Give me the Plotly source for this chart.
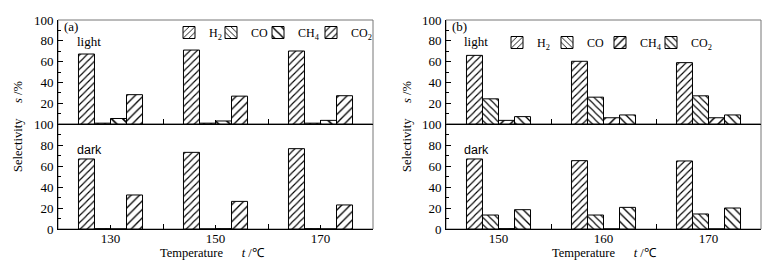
import plotly.graph_objects as go

# ---------------- data ----------------
species = ["H<sub>2</sub>", "CO", "CH<sub>4</sub>", "CO<sub>2</sub>"]
temps_a = ["130", "150", "170"]
temps_b = ["150", "160", "170"]

a_light_H2 = [67.3, 71.1, 70.2]
a_light_CO = [0.8, 0.8, 0.8]
a_light_CH4 = [5.3, 2.9, 3.5]
a_light_CO2 = [28.2, 26.8, 27.2]

a_dark_H2 = [66.7, 73.0, 76.5]
a_dark_CO = [0.3, 0.0, 0.3]
a_dark_CH4 = [0.0, 0.3, 0.0]
a_dark_CO2 = [32.4, 26.3, 22.9]

b_light_H2 = [66.0, 60.3, 59.0]
b_light_CO = [24.2, 25.8, 27.1]
b_light_CH4 = [3.5, 6.0, 6.0]
b_light_CO2 = [7.1, 8.7, 8.7]

b_dark_H2 = [66.7, 65.1, 64.8]
b_dark_CO = [13.3, 13.3, 14.3]
b_dark_CH4 = [0.3, 0.0, 0.0]
b_dark_CO2 = [18.4, 20.6, 20.0]

y_ticks_top = [20, 40, 60, 80, 100]
y_ticks_bottom = [0, 20, 40, 60, 80, 100]

# ---------------- styling ----------------
SERIF = "Liberation Serif, Times New Roman, serif"
SANS = "Liberation Sans, Arial, sans-serif"
patterns_a = [("/", 5), ("\\", 5), ("\\", 8), ("/", 6)]
patterns_b = [("/", 5), ("\\", 5), ("/", 7), ("\\", 6)]

# the page body has an 8px margin, so the figure is drawn 8px smaller
OFF = 8
W, H = 775 - OFF, 262 - OFF

def fx(X):
    return (X - OFF) / W

def fy(Y):
    return 1 - (Y - OFF) / H

# legend item placement (symbol centre x, row centre y) in page pixels
legend_pos_a = [(188, 32), (230, 32), (277, 32), (330, 32)]
legend_pos_b = [(516, 42), (566, 42), (619, 42), (670, 42)]

fig = go.Figure()
xpos = [0, 1, 2]

legend_layouts = {}
legend_counter = [0]

def new_legend(cx, cy):
    legend_counter[0] += 1
    n = legend_counter[0]
    key = "legend" if n == 1 else f"legend{n}"
    legend_layouts[key] = dict(
        orientation="h", x=fx(cx - 19), y=fy(cy - 14),
        xanchor="left", yanchor="top",
        font=dict(family=SERIF, size=12, color="black"),
        bgcolor="rgba(0,0,0,0)", itemwidth=30, borderwidth=0)
    return key

def add_panel(series_top, series_bot, pats, xa_top, ya_top, xa_bot, ya_bot, lpos):
    for i, (name, vt, vb) in enumerate(zip(species, series_top, series_bot)):
        shape, size = pats[i]
        marker = dict(color="white",
                      line=dict(color="black", width=1),
                      pattern=dict(shape=shape, size=size, solidity=0.22,
                                   fgcolor="black", bgcolor="white"))
        lg = new_legend(*lpos[i])
        fig.add_trace(go.Bar(x=xpos, y=vt, name=name, xaxis=xa_top, yaxis=ya_top,
                             marker=marker, legend=lg, showlegend=True,
                             offsetgroup=str(i)))
        fig.add_trace(go.Bar(x=xpos, y=vb, name=name, xaxis=xa_bot, yaxis=ya_bot,
                             marker=marker, showlegend=False,
                             offsetgroup=str(i)))

add_panel([a_light_H2, a_light_CO, a_light_CH4, a_light_CO2],
          [a_dark_H2, a_dark_CO, a_dark_CH4, a_dark_CO2],
          patterns_a, "x", "y", "x2", "y2", legend_pos_a)
add_panel([b_light_H2, b_light_CO, b_light_CH4, b_light_CO2],
          [b_dark_H2, b_dark_CO, b_dark_CH4, b_dark_CO2],
          patterns_b, "x3", "y3", "x4", "y4", legend_pos_b)

dom_a = [fx(58), fx(373)]
dom_b = [fx(446), fx(761)]
dom_top = [fy(124), fy(20)]
dom_bot = [fy(229), fy(124)]

tickfont = dict(family=SERIF, size=13, color="black")

def xaxis(domain, anchor, labels):
    d = dict(domain=domain, anchor=anchor, range=[-0.5, 2.5], automargin=False,
             tickvals=xpos, ticks="inside", ticklen=4, tickcolor="black",
             fixedrange=True,
             showline=True, linecolor="black", linewidth=1,
             tickfont=tickfont, showgrid=False, zeroline=False,
             minor=dict(tickvals=[0.5, 1.5], ticks="inside", ticklen=5,
                        tickcolor="black", showgrid=False))
    if labels is None:
        d["showticklabels"] = False
    else:
        d["ticktext"] = labels
        d["showticklabels"] = True
        d["ticklabelstandoff"] = -3
    return d

def yaxis(domain, anchor, tv):
    return dict(domain=domain, anchor=anchor, range=[0, 100], automargin=False,
                tickvals=tv, ticks="inside", ticklen=5, tickcolor="black",
                showline=True, linecolor="black", linewidth=1,
                tickfont=tickfont, showgrid=False, zeroline=False, ticklabelstandoff=1,
                minor=dict(tickvals=[10, 30, 50, 70, 90], ticks="inside", ticklen=3,
                           tickcolor="black", showgrid=False))

annotations = []
def ann(text, X, Y, font, **kw):
    annotations.append(dict(text=text, x=fx(X), y=fy(Y), xref="paper", yref="paper",
                            showarrow=False, font=font, **kw))

f12 = dict(family=SERIF, size=12.5, color="black")
for cx, cy in [(18, 127), (407, 127)]:
    ann("Selectivity" + "\u00a0" * 5 + "<i>s</i> /%", cx, cy, f12, textangle=-90,
        xanchor="center", yanchor="middle")
for cx in [212, 604]:
    ann("Temperature" + "\u00a0" * 6 + "<i>t</i> /\u2103", cx, 253, f12,
        xanchor="center", yanchor="middle")
f13 = dict(family=SERIF, size=13, color="black")
fsans = dict(family=SANS, size=12.5, color="black")
ann("(a)", 62, 27, f13, xanchor="left", yanchor="middle")
ann("light", 75, 41, f13, xanchor="left", yanchor="middle")
ann("dark", 75, 150, fsans, xanchor="left", yanchor="middle")
ann("(b)", 450, 27, f13, xanchor="left", yanchor="middle")
ann("light", 462, 41, f13, xanchor="left", yanchor="middle")
ann("dark", 462, 150, fsans, xanchor="left", yanchor="middle")

shapes = []
for xa, ya in [("x", "y"), ("x2", "y2"), ("x3", "y3"), ("x4", "y4")]:
    shapes.append(dict(type="rect", xref=xa + " domain", yref=ya + " domain",
                       x0=0, x1=1, y0=0, y1=1, line=dict(color="#777777", width=1),
                       layer="below"))

fig.update_layout(
    template="none",
    width=W, height=H, margin=dict(l=0, r=0, t=0, b=0, pad=0, autoexpand=False),
    paper_bgcolor="white", plot_bgcolor="white",
    barmode="group", bargap=0.39, bargroupgap=0,
    xaxis=xaxis(dom_a, "y", None),
    xaxis2=xaxis(dom_a, "y2", temps_a),
    xaxis3=xaxis(dom_b, "y3", None),
    xaxis4=xaxis(dom_b, "y4", temps_b),
    yaxis=yaxis(dom_top, "x", y_ticks_top),
    yaxis2=yaxis(dom_bot, "x2", y_ticks_bottom),
    yaxis3=yaxis(dom_top, "x3", y_ticks_top),
    yaxis4=yaxis(dom_bot, "x4", y_ticks_bottom),
    annotations=annotations, shapes=shapes,
    **legend_layouts,
)

fig.write_html("out.html")
